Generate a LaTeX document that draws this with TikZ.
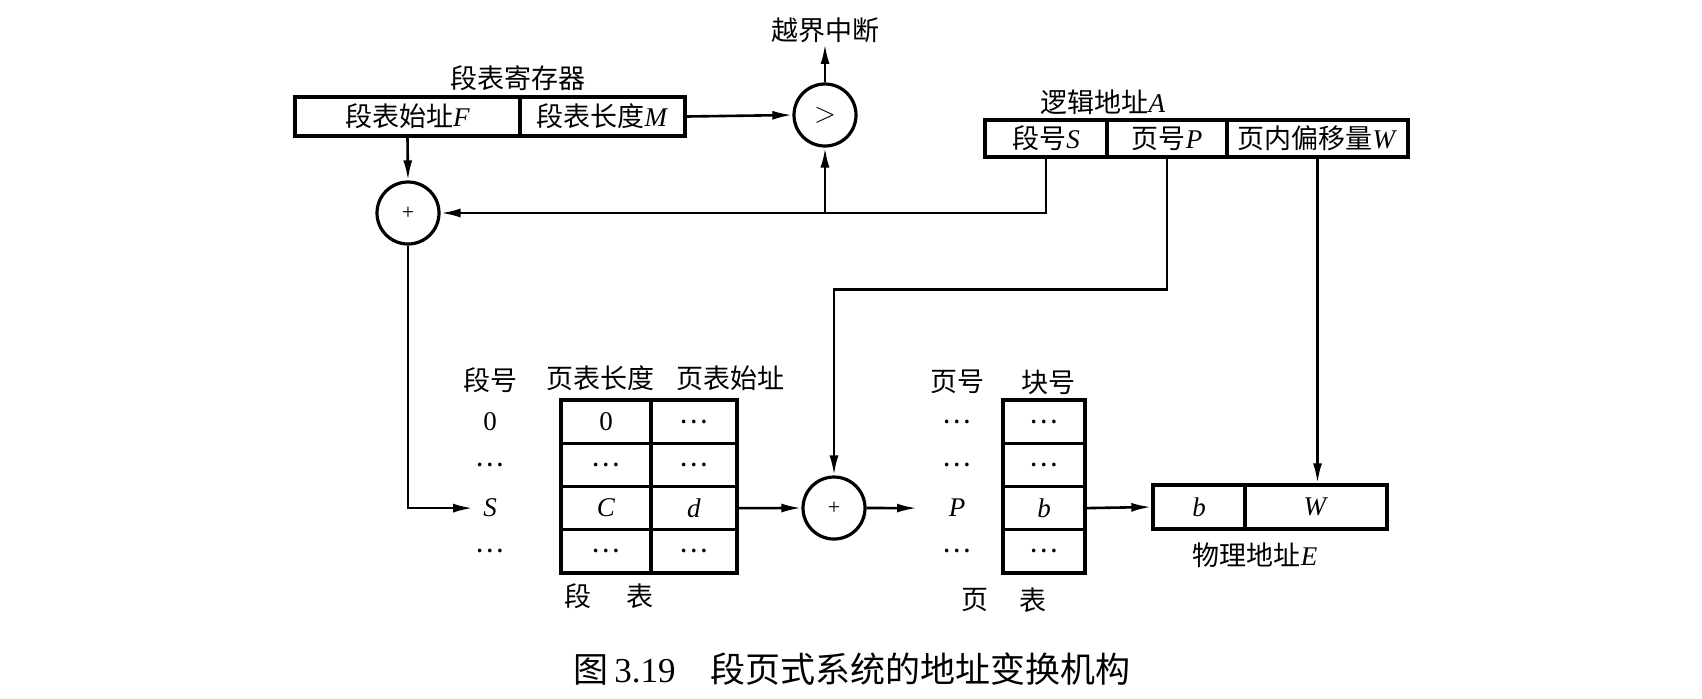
\documentclass[tikz,border=0pt]{standalone}
\usepackage{fontspec}
\setmainfont{Liberation Serif}
\newfontfamily\cjk{Noto Sans CJK SC}
\usetikzlibrary{arrows.meta}
\newcommand\zh[1]{{\cjk #1}}
\newcommand\dts{{\cjk …}}
\begin{document}
\begin{tikzpicture}[x=0.5pt,y=-0.5pt,
  txt/.style={inner sep=0.5pt, font=\fontsize{13.5}{16}\selectfont},
  captxt/.style={inner sep=0.5pt, font=\fontsize{17.5}{20}\selectfont},
  cell/.style={txt, draw, line width=1.7pt, inner sep=0pt},
  regc/.style={cell, minimum height=19.5pt},
  lac/.style={cell, minimum height=18.5pt},
  stc/.style={cell, minimum height=21.625pt},
  phc/.style={cell, minimum height=22pt},
  op/.style={draw, circle, line width=1.6pt, minimum size=31pt, inner sep=0pt, font=\fontsize{13.5}{16}\selectfont},
  conn/.style={line width=1.3pt},
  arr/.style={conn, -{Latex[length=10pt,width=4.5pt]}}]
\useasboundingbox (0,0) rectangle (1702,698);

% segment table register
\node[txt] (reglab) at (518,78) {\zh{段表寄存器}};
\node[regc, minimum width=112.5pt] (rF) at (407.5,116.5) {\zh{段表始址}\textit{F}};
\node[regc, minimum width=82.5pt] (rM) at (602.5,116.5) {\zh{段表长度}\textit{M}};

% comparator and adders
\node[op] (gt) at (825,115) {$>$};
\node[txt] (ovf) at (825,30) {\zh{越界中断}};
\node[op] (p1) at (408,213) {\fontsize{11}{12}\selectfont +};
\node[op] (p2) at (834,508) {\fontsize{11}{12}\selectfont +};

% logical address
\node[txt] (lalab) at (1103,102) {\zh{逻辑地址}\textit{A}};
\node[lac, minimum width=61pt] (lS) at (1046,138.5) {\zh{段号}\textit{S}};
\node[lac, minimum width=60pt] (lP) at (1167,138.5) {\zh{页号}\textit{P}};
\node[lac, minimum width=90.5pt] (lW) at (1317.5,138.5) {\zh{页内偏移量}\textit{W}};

% segment table
\node[txt] (sh0) at (490,380) {\zh{段号}};
\node[txt] (sh1) at (600,378) {\zh{页表长度}};
\node[txt] (sh2) at (730,378) {\zh{页表始址}};
\node[txt] (sr1) at (490,421.6) {0};
\node[txt] (sr2) at (490,464.9) {\dts};
\node[txt] (sr3) at (490,508.1) {\textit{S}};
\node[txt] (sr4) at (490,551.4) {\dts};
\node[stc, minimum width=45pt] (sa1) at (606,421.6) {0};
\node[stc, minimum width=45pt] (sa2) at (606,464.9) {\dts};
\node[stc, minimum width=45pt] (sa3) at (606,508.1) {\textit{C}};
\node[stc, minimum width=45pt] (sa4) at (606,551.4) {\dts};
\node[stc, minimum width=43pt] (sb1) at (694,421.6) {\dts};
\node[stc, minimum width=43pt] (sb2) at (694,464.9) {\dts};
\node[stc, minimum width=43pt] (sb3) at (694,508.1) {\textit{d}};
\node[stc, minimum width=43pt] (sb4) at (694,551.4) {\dts};
\node[txt] (st1) at (578,596) {\zh{段}};
\node[txt] (st2) at (640,596) {\zh{表}};

% page table
\node[txt] (ph0) at (957,382) {\zh{页号}};
\node[txt] (ph1) at (1048,382) {\zh{块号}};
\node[txt] (pr1) at (957,421.6) {\dts};
\node[txt] (pr2) at (957,464.9) {\dts};
\node[txt] (pr3) at (957,508.1) {\textit{P}};
\node[txt] (pr4) at (957,551.4) {\dts};
\node[stc, minimum width=41pt] (pa1) at (1044,421.6) {\dts};
\node[stc, minimum width=41pt] (pa2) at (1044,464.9) {\dts};
\node[stc, minimum width=41pt] (pa3) at (1044,508.1) {\textit{b}};
\node[stc, minimum width=41pt] (pa4) at (1044,551.4) {\dts};
\node[txt] (pt1) at (975,600) {\zh{页}};
\node[txt] (pt2) at (1033,600) {\zh{表}};

% physical address
\node[phc, minimum width=46pt] (eb) at (1199,507) {\textit{b}};
\node[phc, minimum width=71pt] (eW) at (1316,507) {\textit{W}};
\node[txt] (elab) at (1255,555) {\zh{物理地址}\textit{E}};

% caption
\node[captxt] (caption) at (852,669) {\zh{图}\,3.19\hspace{1em}\zh{段页式系统的地址变换机构}};

% junctions / free ends
\coordinate (j1) at (825,213);
\coordinate (pinS) at (473,508.1);
\coordinate (pinP) at (917,508.1);

% connectors
\draw[arr] (rF.south) -- (p1.north);
\draw[arr] (rM.east) -- (gt.west);
\draw[arr] (gt.north) -- (ovf.south);
\draw[arr] (lS.south) |- (p1.east);
\draw[arr] (j1) -- (gt.south);
\draw[arr] (p1.south) |- (pinS);
\draw[arr] (lP.south) -- ++(0,131) -| (p2.north);
\draw[arr] (sb3.east) -- (p2.west);
\draw[arr] (p2.east) -- (pinP);
\draw[arr] (pa3.east) -- (eb.west);
\draw[arr] (lW.south) -- (lW.south |- eW.north);
\end{tikzpicture}
\end{document}
